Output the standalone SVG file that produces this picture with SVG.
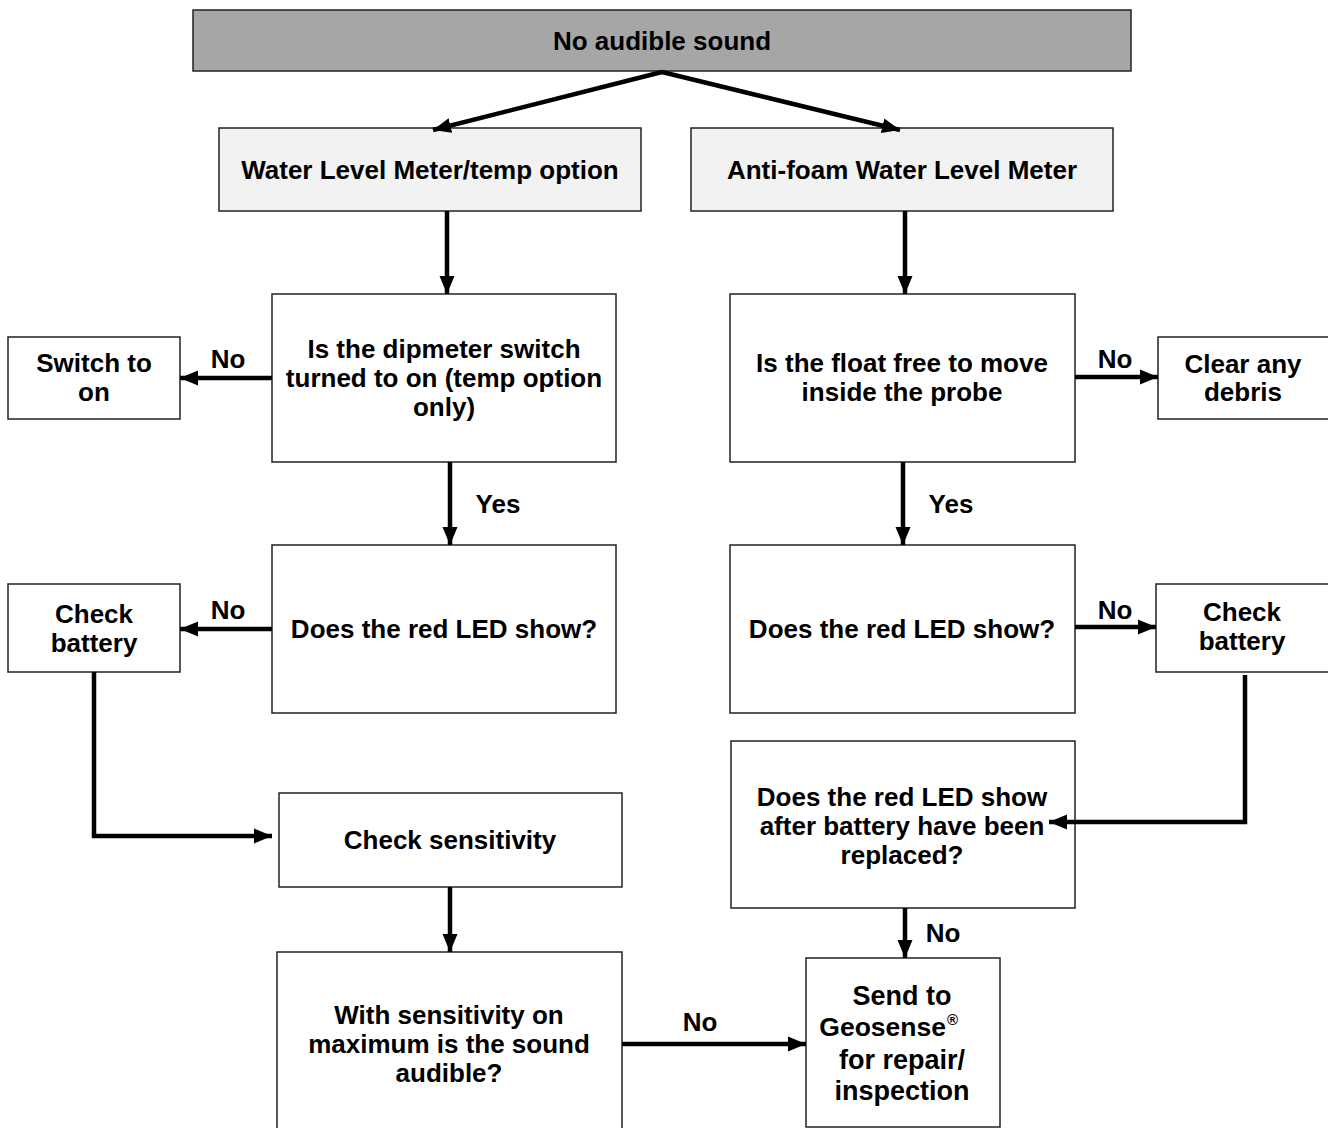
<svg xmlns="http://www.w3.org/2000/svg" width="1328" height="1128" viewBox="0 0 1328 1128">
<style>
.box{fill:#fff;stroke:#222;stroke-width:1.5}
.hd{fill:#f2f2f2;stroke:#222;stroke-width:1.5}
.top{fill:#a6a6a6;stroke:#222;stroke-width:1.5}
text{font-family:"Liberation Sans",Arial,sans-serif;font-weight:bold;font-size:26px;fill:#000;text-anchor:middle}
.big{font-size:27px}
.ln{fill:none;stroke:#000;stroke-width:4.5;marker-end:url(#ah)}
</style>
<defs>
<marker id="ah" markerUnits="userSpaceOnUse" markerWidth="18" markerHeight="18" viewBox="0 0 18 18" refX="18" refY="9" orient="auto">
<path d="M0,1.5 L18,9 L0,16.5 Z" fill="#000"/>
</marker>
</defs>
<rect width="1328" height="1128" fill="#fff"/>
<g id="n-top"><rect class="top" x="193" y="10" width="938" height="61"/><text x="662" y="50">No audible sound</text></g>
<g id="n-wlm"><rect class="hd" x="219" y="128" width="422" height="83"/><text x="430" y="179">Water Level Meter/temp option</text></g>
<g id="n-af"><rect class="hd" x="691" y="128" width="422" height="83"/><text x="902" y="179">Anti-foam Water Level Meter</text></g>
<g id="n-dip"><rect class="box" x="272" y="294" width="344" height="168"/><text x="444" y="358">Is the dipmeter switch</text><text x="444" y="387">turned to on (temp option</text><text x="444" y="416">only)</text></g>
<g id="n-switch"><rect class="box" x="8" y="337" width="172" height="82"/><text x="94" y="372">Switch to</text><text x="94" y="401">on</text></g>
<g id="n-led1"><rect class="box" x="272" y="545" width="344" height="168"/><text x="444" y="638">Does the red LED show?</text></g>
<g id="n-bat1"><rect class="box" x="8" y="584" width="172" height="88"/><text x="94" y="623">Check</text><text x="94" y="652">battery</text></g>
<g id="n-sens"><rect class="box" x="279" y="793" width="343" height="94"/><text x="450" y="849">Check sensitivity</text></g>
<g id="n-max"><rect class="box" x="277" y="952" width="345" height="180"/><text x="449" y="1024">With sensitivity on</text><text x="449" y="1053">maximum is the sound</text><text x="449" y="1082">audible?</text></g>
<g id="n-float"><rect class="box" x="730" y="294" width="345" height="168"/><text x="902" y="372">Is the float free to move</text><text x="902" y="401">inside the probe</text></g>
<g id="n-debris"><rect class="box" x="1158" y="337" width="172" height="82"/><text x="1243" y="373">Clear any</text><text x="1243" y="401">debris</text></g>
<g id="n-led2"><rect class="box" x="730" y="545" width="345" height="168"/><text x="902" y="638">Does the red LED show?</text></g>
<g id="n-bat2"><rect class="box" x="1156" y="584" width="174" height="88"/><text x="1242" y="621">Check</text><text x="1242" y="650">battery</text></g>
<g id="n-after"><rect class="box" x="731" y="741" width="344" height="167"/><text x="902" y="806">Does the red LED show</text><text x="902" y="835">after battery have been</text><text x="902" y="864">replaced?</text></g>
<g id="n-send"><rect class="box" x="806" y="958" width="194" height="169"/><text class="big" x="902" y="1005">Send to</text><text x="946" y="1036" style="font-size:26.5px;text-anchor:end">Geosense</text><text x="947" y="1025" style="font-size:15px;text-anchor:start">®</text><text class="big" x="902" y="1069">for repair/</text><text class="big" x="902" y="1100">inspection</text></g>
<g id="connectors">
<path class="ln" d="M662,72 L433,130"/>
<path class="ln" d="M662,72 L900,130"/>
<path class="ln" d="M447,211 L447,294"/>
<path class="ln" d="M905,211 L905,294"/>
<path class="ln" d="M272,378 L180,378"/>
<path class="ln" d="M450,462 L450,545"/>
<path class="ln" d="M1075,377 L1158,377"/>
<path class="ln" d="M903,462 L903,545"/>
<path class="ln" d="M272,629 L180,629"/>
<path class="ln" d="M1075,627 L1156,627"/>
<path class="ln" d="M94,672 L94,836 L272,836"/>
<path class="ln" d="M1245,675 L1245,822 L1049,822"/>
<path class="ln" d="M450,887 L450,952"/>
<path class="ln" d="M905,908 L905,958"/>
<path class="ln" d="M622,1044 L806,1044"/>
<text x="228" y="368">No</text>
<text x="498" y="513">Yes</text>
<text x="1115" y="368">No</text>
<text x="951" y="513">Yes</text>
<text x="228" y="619">No</text>
<text x="1115" y="619">No</text>
<text x="943" y="942">No</text>
<text x="700" y="1031">No</text>
</g>
</svg>
